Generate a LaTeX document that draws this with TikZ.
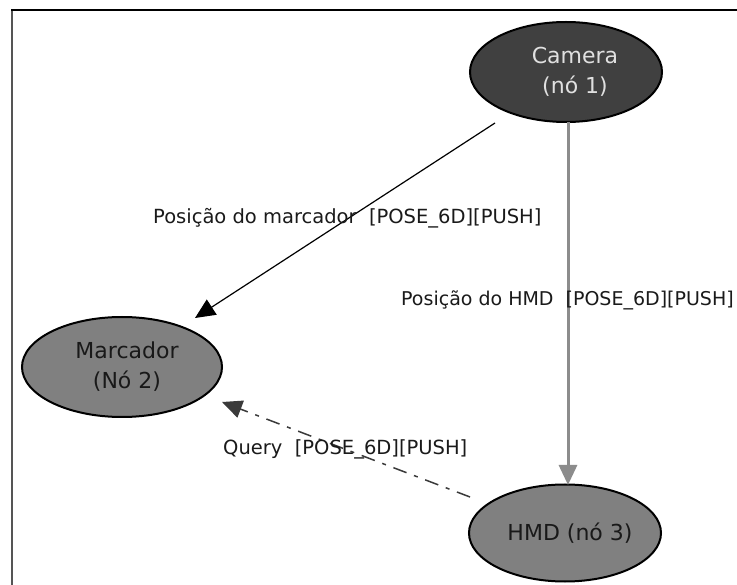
\documentclass[tikz,border=0pt]{standalone}
\usepackage{fontspec}
\setmainfont{DejaVu Sans}
\usetikzlibrary{shapes.geometric,arrows.meta,calc}
\definecolor{camfill}{HTML}{404040}
\definecolor{nodefill}{HTML}{808080}
\definecolor{pushline}{HTML}{8C8C8C}
\definecolor{queryline}{HTML}{3A3A3A}
\definecolor{labeltext}{HTML}{1A1A1A}
\definecolor{frameleft}{HTML}{555555}
\begin{document}
\begin{tikzpicture}[x=1pt,y=-1pt,
  graphnode/.style={ellipse, draw=black, line width=2pt, inner sep=0pt},
  nodetext/.style={align=center, inner sep=0pt, font=\fontsize{22}{30}\selectfont},
  flowtip/.style={-{Triangle[length=20pt,width=18pt]}},
  edgelabel/.style={anchor=west, inner sep=0pt, text=labeltext,
    font=\fontsize{19.5}{22}\selectfont}]
\useasboundingbox (0,0) rectangle (737,585);
\fill[white] (0,0) rectangle (737,585);
% window frame
\draw[frameleft, line width=2pt] (12,585) -- (12,10);
\draw[black, line width=1.5pt] (11,10) -- (737,10);

% nodes
\node[graphnode, fill=camfill, minimum width=192pt, minimum height=100pt,
  label={[nodetext, text=white!88!black, xshift=9pt]center:Camera\\(nó 1)}]
  (cam) at (566,72) {};
\node[graphnode, fill=nodefill, minimum width=200pt, minimum height=100pt,
  label={[nodetext, text=black!90, xshift=5pt]center:Marcador\\(Nó 2)}]
  (mar) at (122,367) {};
\node[graphnode, fill=nodefill, minimum width=192pt, minimum height=97pt,
  label={[nodetext, text=black!90, xshift=5pt]center:HMD (nó 3)}]
  (hmd) at (565,533) {};

% connectors
\draw[flowtip, black, line width=1.2pt]
  ($(cam.center)+(-71,51)$) -- ($(mar.center)+(73,-49)$);
\draw[flowtip, pushline, line width=3pt]
  ($(cam.center)+(2,50)$) -- ($(hmd.center)+(3,-48)$);
\draw[flowtip, queryline, line width=1.5pt, dash pattern=on 14pt off 8pt on 4pt off 8pt]
  ($(hmd.center)+(-95,-36)$) -- ($(mar.center)+(100,35)$);

% connector labels
\node[edgelabel] (lmar) at (153,218) {Posição do marcador\ \ [POSE\_6D][PUSH]};
\node[edgelabel, font=\fontsize{19}{22}\selectfont] (lhmd) at (401,300)
  {Posição do HMD\ \ [POSE\_6D][PUSH]};
\node[edgelabel] (lqry) at (223,449) {Query\ \ [POSE\_6D][PUSH]};
\end{tikzpicture}
\end{document}
